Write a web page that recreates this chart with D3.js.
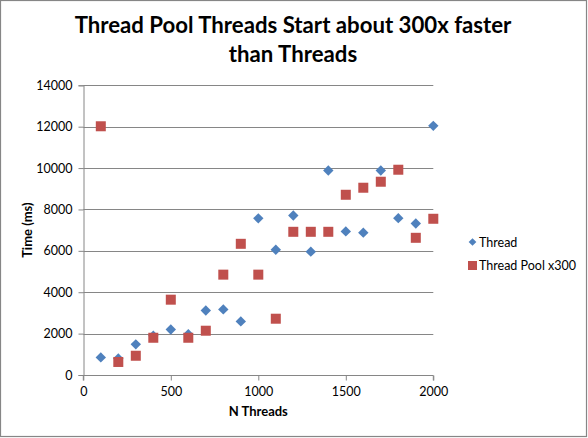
<!DOCTYPE html>
<html>
<head>
<meta charset="utf-8">
<script src="https://cdn.jsdelivr.net/npm/d3@7"></script>
<style>
  html, body { margin: 0; padding: 0; background: #fff; }
  svg { display: block; }
  text { font-family: Lato, "Open Sans", sans-serif; }
</style>
</head>
<body>
<svg id="chart" width="588" height="438"></svg>
<script>
const titleLines = ["Thread Pool Threads Start about 300x faster", "than Threads"];
const xLabel = "N Threads";
const yLabel = "Time (ms)";
const seriesNames = ["Thread", "Thread Pool x300"];
const nThreads = [100, 200, 300, 400, 500, 600, 700, 800, 900, 1000, 1100, 1200, 1300, 1400, 1500, 1600, 1700, 1800, 1900, 2000];
const threadTimes = [850, 800, 1480, 1900, 2200, 1970, 3120, 3170, 2590, 7570, 6050, 7710, 5960, 9880, 6940, 6880, 9880, 7580, 7320, 12040];
const poolTimes = [12020, 630, 930, 1800, 3640, 1800, 2140, 4850, 6340, 4850, 2720, 6920, 6920, 6920, 8710, 9050, 9340, 9920, 6630, 7550];
const xTicks = [0, 500, 1000, 1500, 2000];
const yTicks = [0, 2000, 4000, 6000, 8000, 10000, 12000, 14000];
const colors = ["#4F81BD", "#C0504D"];

const svg = d3.select("#chart");
const W = 588, H = 438;
const plot = { left: 83.3, right: 433.3, top: 85.3, bottom: 375 };

svg.append("rect").attr("x", 0.5).attr("y", 0.5).attr("width", W - 2).attr("height", H - 2)
  .attr("fill", "#fff").attr("stroke", "#868686").attr("stroke-width", 1.2);

const x = d3.scaleLinear().domain([0, 2000]).range([plot.left, plot.right]);
const y = d3.scaleLinear().domain([0, 14000]).range([plot.bottom, plot.top]);

// gridlines
svg.append("g").selectAll("line").data(yTicks.filter(d => d > 0)).join("line")
  .attr("x1", plot.left).attr("x2", plot.right)
  .attr("y1", d => Math.round(y(d)) + 0.5).attr("y2", d => Math.round(y(d)) + 0.5)
  .attr("stroke", "#868686").attr("stroke-width", 1);

// axes
const yAxis = d3.axisLeft(y).tickValues(yTicks).tickSize(5).tickPadding(6).tickFormat(d3.format("d"));
const xAxis = d3.axisBottom(x).tickValues(xTicks).tickSize(5).tickPadding(7).tickFormat(d3.format("d"));

const gy = svg.append("g").attr("transform", `translate(${Math.round(plot.left) + 0.5},0)`).call(yAxis);
const gx = svg.append("g").attr("transform", `translate(0,${Math.round(plot.bottom) + 0.5})`).call(xAxis);
[gx, gy].forEach(g => {
  g.select(".domain").attr("stroke", "#868686");
  g.selectAll(".tick line").attr("stroke", "#868686");
  g.selectAll(".tick text").attr("fill", "#000").style("font-size", "12.5px").style("font-family", "Lato, sans-serif");
});
gx.select(".domain").attr("d", `M${plot.left},5V0H${plot.right}V5`);

// title
const title = svg.append("text").attr("text-anchor", "middle")
  .style("font-size", "22px").style("font-weight", "bold").attr("fill", "#000");
titleLines.forEach((t, i) => {
  title.append("tspan").attr("x", 293).attr("y", 33 + i * 29).text(t);
});

// axis labels
svg.append("text").attr("x", (plot.left + plot.right) / 2).attr("y", 416)
  .attr("text-anchor", "middle").style("font-size", "13px").style("font-weight", "bold")
  .text(xLabel);
svg.append("text").attr("transform", `translate(32,${(plot.top + plot.bottom) / 2}) rotate(-90)`)
  .attr("text-anchor", "middle").style("font-size", "13px").style("font-weight", "bold")
  .text(yLabel);

// markers
const diamond = d3.symbol().type(d3.symbolSquare).size(54);
const threadData = nThreads.map((n, i) => ({ n, v: threadTimes[i] }));
const poolData = nThreads.map((n, i) => ({ n, v: poolTimes[i] }));

svg.append("g").selectAll("path").data(threadData).join("path")
  .attr("d", diamond)
  .attr("transform", d => `translate(${x(d.n)},${y(d.v)}) rotate(45)`)
  .attr("fill", colors[0]);

svg.append("g").selectAll("rect").data(poolData).join("rect")
  .attr("x", d => x(d.n) - 5).attr("y", d => y(d.v) - 5)
  .attr("width", 10).attr("height", 10)
  .attr("fill", colors[1]);

// legend
const lg = svg.append("g");
lg.append("path").attr("d", d3.symbol().type(d3.symbolSquare).size(30))
  .attr("transform", "translate(472.5,242) rotate(45)").attr("fill", colors[0]);
lg.append("text").attr("x", 479).attr("y", 246.5).style("font-size", "12.5px").text(seriesNames[0]);
lg.append("rect").attr("x", 468).attr("y", 261).attr("width", 9).attr("height", 9).attr("fill", colors[1]);
lg.append("text").attr("x", 479).attr("y", 269.5).style("font-size", "12.5px").text(seriesNames[1]);

// fit title width to reference
const t0 = title.select("tspan").node();
const w0 = t0.getComputedTextLength();
if (w0 > 0) {
  const fs = 22 * 437 / w0;
  title.style("font-size", Math.min(26, fs) + "px");
}
</script>
</body>
</html>
